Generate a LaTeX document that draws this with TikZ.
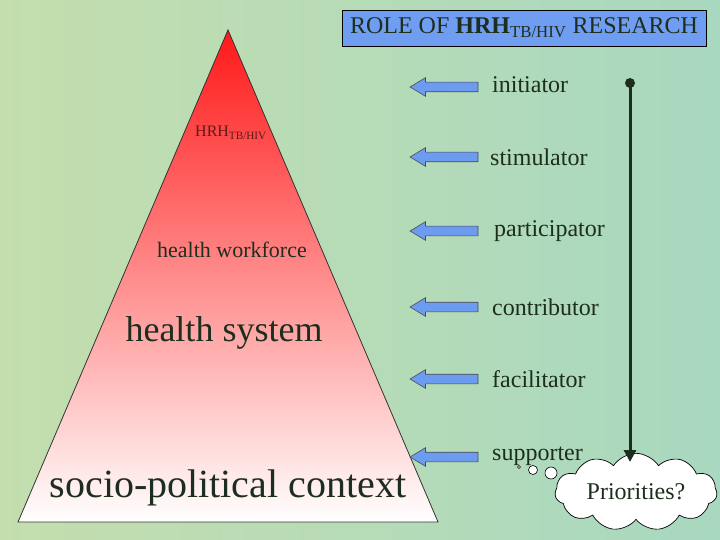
\documentclass[tikz,border=0pt]{standalone}
\usepackage{fontspec}
\setmainfont{Liberation Serif}
\usetikzlibrary{shapes.arrows,shapes.symbols,arrows.meta}
\definecolor{bgA}{HTML}{C4DEAE}
\definecolor{bgB}{HTML}{A8D8C0}
\definecolor{boxblue}{HTML}{6F9DF2}
\definecolor{arrblue}{HTML}{6C9CF0}
\definecolor{txt}{HTML}{1E2E1E}
\definecolor{darkred}{HTML}{5A1A1A}
\definecolor{topred}{HTML}{FF1818}
\tikzset{
  blockarrow/.style={single arrow, shape border rotate=180, draw=black!70, fill=arrblue,
    minimum height=68pt, single arrow head extend=4.5pt,
    single arrow tip angle=62, inner sep=0pt, line width=0.6pt},
  role/.style={anchor=west, text=txt, font=\fontsize{24}{28}\selectfont, inner sep=0pt},
  tri/.style={text=txt, inner sep=0pt},
  bubble/.style={circle, draw=black, fill=white, line width=0.6pt, inner sep=0pt}
}
\newcommand{\shaftrule}{\rule{0pt}{9pt}}
\begin{document}
\begin{tikzpicture}[x=1pt,y=-1pt]
\useasboundingbox (0,0) rectangle (720,540);
\shade[left color=bgA, right color=bgB] (0,0) rectangle (720,540);
% pyramid
\shade[top color=topred, bottom color=white, draw=black!80, line width=0.8pt]
  (228,30) -- (438,522) -- (18,522) -- cycle;
\node[tri, anchor=west, text=darkred, font=\fontsize{16}{18}\selectfont] (hrh) at (195,133) {HRH\textsubscript{TB/HIV}};
\node[tri, font=\fontsize{22}{26}\selectfont] (hw) at (232,250) {health workforce};
\node[tri, font=\fontsize{36}{40}\selectfont] (hs) at (224,333) {health system};
\node[tri, font=\fontsize{40}{46}\selectfont] (spc) at (228,488) {socio-political context};
% title
\node[draw=black, line width=0.8pt, fill=boxblue, text=txt, minimum width=364pt, minimum height=36pt,
  font=\fontsize{24}{28}\selectfont, inner sep=0pt] (title) at (524,28)
  {ROLE OF \textbf{HRH}\textsubscript{TB/HIV} RESEARCH};
% arrows and roles
\node[blockarrow] (a1) at (448,87) {\shaftrule};
\node[blockarrow] (a2) at (448,157) {\shaftrule};
\node[blockarrow] (a3) at (448,231) {\shaftrule};
\node[blockarrow] (a4) at (448,307) {\shaftrule};
\node[blockarrow] (a5) at (448,379) {\shaftrule};
\node[blockarrow] (a6) at (448,457) {\shaftrule};
\node[role] (r1) at (492,85) {initiator};
\node[role] (r2) at (490,157) {stimulator};
\node[role] (r3) at (494,231) {participator};
\node[role] (r4) at (492,307) {contributor};
\node[role] (r5) at (492,379) {facilitator};
\node[role] (r6) at (492,456) {supporter};
% cloud
\node[cloud, cloud puffs=11, cloud puff arc=115, aspect=2.4, draw=black, fill=white, line width=0.7pt,
  minimum width=162pt, minimum height=70pt, inner sep=0pt, text=txt,
  font=\fontsize{24}{28}\selectfont] (cl) at (636,492) {Priorities?};
\node[bubble, minimum size=3pt] (b1) at (519,467) {};
\node[bubble, minimum size=9pt] (b2) at (533,470) {};
\node[bubble, minimum size=12pt] (b3) at (551,473) {};
% vertical line
\node[circle, fill=txt, minimum size=10pt, inner sep=0pt] (dot) at (630,83) {};
\draw[line width=3pt, draw=txt, -{Triangle[length=12pt,width=12pt]}] (dot.center) -- (630,462);
\end{tikzpicture}
\end{document}
